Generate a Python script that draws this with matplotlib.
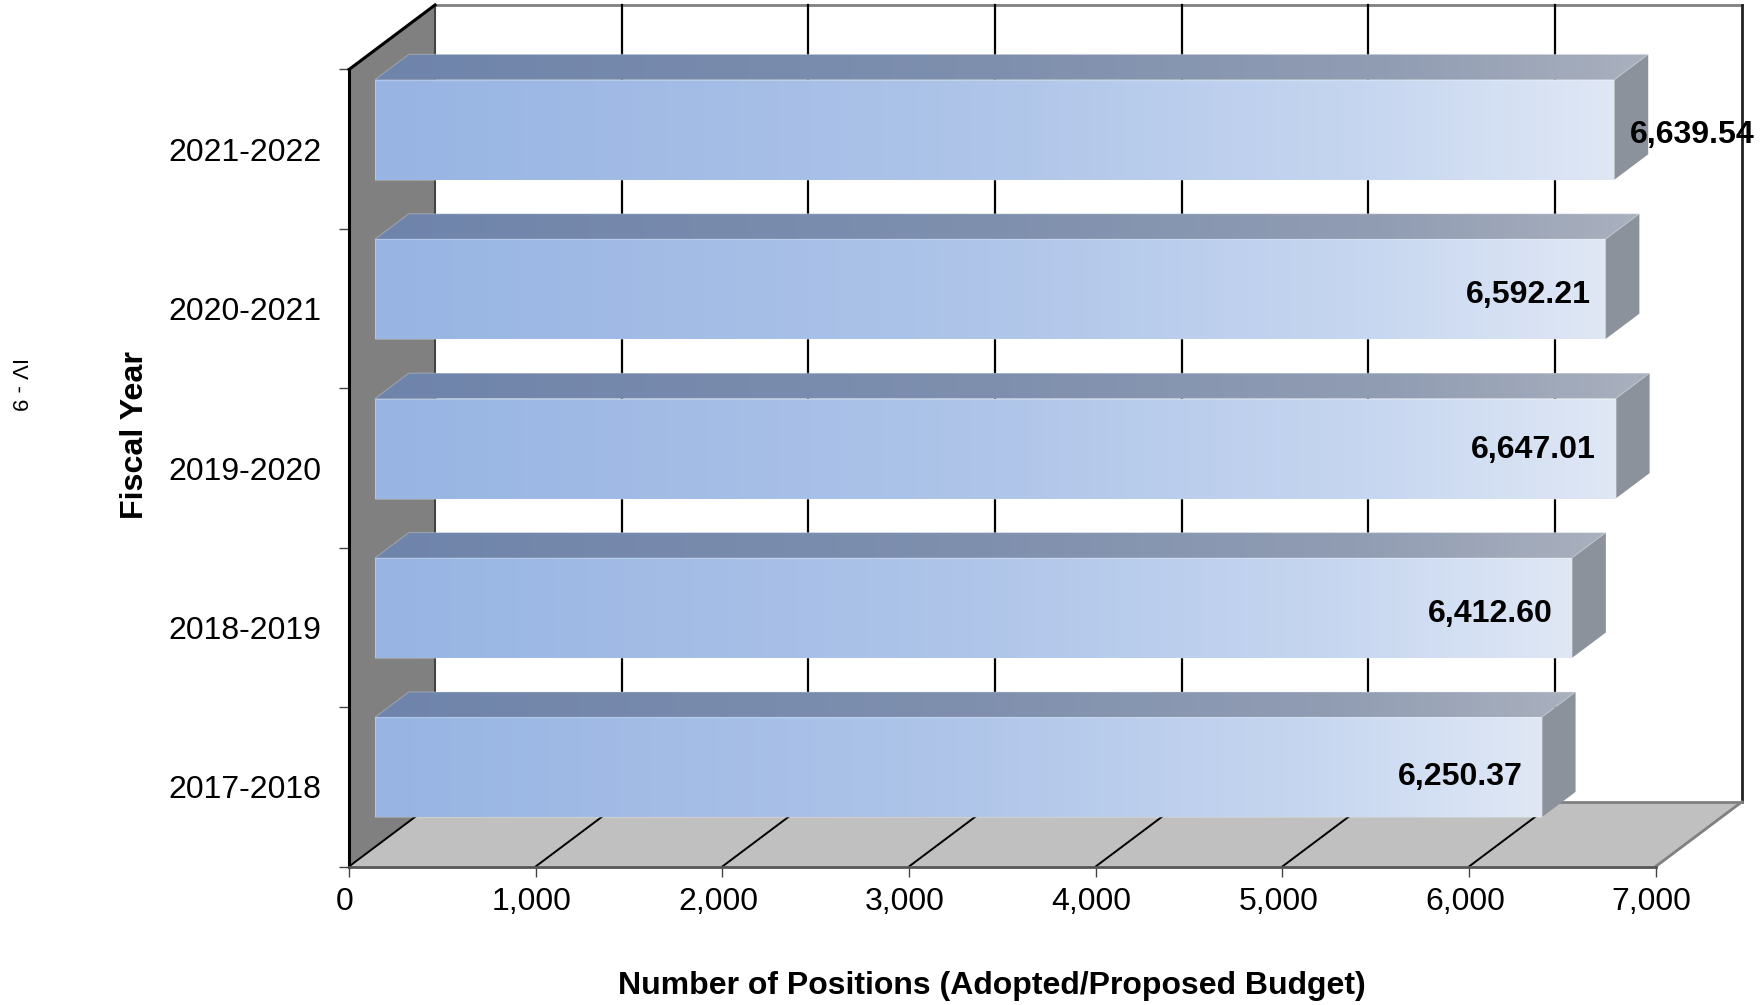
#!/usr/bin/env python3
# -*- coding: utf-8 -*-
"""Positions by fiscal year, drawn as a bar chart with a 3-D box look."""
import numpy as np
import matplotlib
matplotlib.use("Agg")
import matplotlib.pyplot as plt
from matplotlib.colors import LinearSegmentedColormap
from matplotlib.patches import Polygon
from matplotlib.transforms import ScaledTranslation

plt.rcParams["font.family"] = ["Liberation Sans", "DejaVu Sans"]

# bottom to top
YEARS = ["2017-2018", "2018-2019", "2019-2020", "2020-2021", "2021-2022"]
POSITIONS = [6250.37, 6412.60, 6647.01, 6592.21, 6639.54]
XTICKS = [0, 1000, 2000, 3000, 4000, 5000, 6000, 7000]

# depth of the box, in data units
DEPTH_X = 461
DEPTH_Y = 0.405
BAR_FRONT = 0.30
BAR_BACK = 0.695
BAR_H = 0.627

# nudges of the value labels from the bar end, in pixels
LABEL_NUDGE = [(-19, -9.5), (-19, -5.5), (-20, -1.5), (-15, -5.5), (140, -5.5)]

FRONT_CMAP = LinearSegmentedColormap.from_list(
    "front", [(0, "#97B4E3"), (0.5, "#AFC5E9"), (0.8, "#C6D6F0"), (1, "#DFE7F5")])
TOP_CMAP = LinearSegmentedColormap.from_list(
    "top", [(0, "#6F84AB"), (0.5, "#7F90AE"), (0.8, "#919DB3"), (1, "#A9B0BE")])
SIDE = "#8C929C"
WALL = "#808080"
FLOOR = "#C0C0C0"


def proj(x, y, d):
    """Push a point of the front plane back by depth d (0..1)."""
    return (x + d * DEPTH_X, y + d * DEPTH_Y)


def gradient(ax, fig, corners, cmap, zorder):
    pts = np.array(corners)
    im = ax.imshow(np.linspace(0, 1, 256).reshape(1, -1), cmap=cmap, aspect="auto",
                   extent=(pts[:, 0].min(), pts[:, 0].max(), pts[:, 1].min(), pts[:, 1].max()),
                   zorder=zorder, interpolation="bilinear")
    im.set_clip_box(fig.bbox)
    im.set_clip_path(Polygon(corners, transform=ax.transData))
    # thin light rim round the face
    ax.add_patch(Polygon(corners, fill=False, edgecolor=(1, 1, 1, 0.25), linewidth=0.8,
                         zorder=zorder + 0.1, clip_on=False))


fig = plt.figure(figsize=(17.64, 10.05), dpi=100)
ax = fig.add_axes([349 / 1764, (1005 - 866.5) / 1005, 1306.7 / 1764, 797 / 1005])
ax.patch.set_visible(False)

n = len(YEARS)
xmax = XTICKS[-1]

# back wall frame and gridlines
ax.plot(*zip(proj(0, n, 1), proj(xmax, n, 1)), color="#808080", lw=2, clip_on=False, zorder=1)
for x in XTICKS[1:-1]:
    ax.plot(*zip(proj(x, 0, 1), proj(x, n, 1)), color="black", lw=1.6, clip_on=False, zorder=1)
ax.plot(*zip(proj(xmax, 0, 1), proj(xmax, n, 1)), color="#222222", lw=2, clip_on=False, zorder=1)

# side wall
ax.add_patch(Polygon([proj(0, 0, 0), proj(0, n, 0), proj(0, n, 1), proj(0, 0, 1)],
                     facecolor=WALL, edgecolor="none", clip_on=False, zorder=2))
ax.plot(*zip(proj(0, 0, 1), proj(0, n, 1)), color="#444444", lw=1.5, clip_on=False, zorder=2.1)
ax.plot(*zip(proj(0, n, 0), proj(0, n, 1)), color="black", lw=2.2, clip_on=False, zorder=2.1)

# floor and its gridlines
ax.add_patch(Polygon([proj(0, 0, 0), proj(xmax, 0, 0), proj(xmax, 0, 1), proj(0, 0, 1)],
                     facecolor=FLOOR, edgecolor="none", clip_on=False, zorder=2))
ax.plot(*zip(proj(0, 0, 1), proj(xmax, 0, 1)), color="#808080", lw=2, clip_on=False, zorder=2.1)
ax.plot(*zip(proj(xmax, 0, 0), proj(xmax, 0, 1)), color="#808080", lw=2, clip_on=False, zorder=2.1)
for x in XTICKS[:-1]:
    ax.plot(*zip(proj(x, 0, 0), proj(x, 0, 1)), color="black", lw=1.4, clip_on=False, zorder=2.1)

# bars: top face, end face, front face
for i, v in enumerate(POSITIONS):
    lo = i + 0.5 - BAR_H / 2
    hi = i + 0.5 + BAR_H / 2
    top = [proj(0, hi, BAR_FRONT), proj(v, hi, BAR_FRONT), proj(v, hi, BAR_BACK), proj(0, hi, BAR_BACK)]
    gradient(ax, fig, top, TOP_CMAP, 3)
    ax.add_patch(Polygon([proj(v, lo, BAR_FRONT), proj(v, lo, BAR_BACK), proj(v, hi, BAR_BACK), proj(v, hi, BAR_FRONT)],
                         facecolor=SIDE, edgecolor="none", clip_on=False, zorder=3))
    front = [proj(0, lo, BAR_FRONT), proj(v, lo, BAR_FRONT), proj(v, hi, BAR_FRONT), proj(0, hi, BAR_FRONT)]
    gradient(ax, fig, front, FRONT_CMAP, 4)

    nudge = LABEL_NUDGE[i]
    ax.annotate(f"{v:,.2f}", xy=proj(v, i + 0.5, BAR_FRONT),
                xytext=(nudge[0] * 0.72, nudge[1] * 0.72), textcoords="offset points",
                ha="right", va="center", fontsize=23.1, fontweight="bold", color="black",
                annotation_clip=False, zorder=6)

ax.set_xlim(0, xmax)
ax.set_ylim(0, n)

for name in ("top", "right"):
    ax.spines[name].set_visible(False)
ax.spines["left"].set_color("black")
ax.spines["left"].set_linewidth(2.2)
ax.spines["bottom"].set_color("#555555")
ax.spines["bottom"].set_linewidth(2)

ax.set_xticks(XTICKS)
ax.set_xticklabels([f"{t:,}" for t in XTICKS], fontsize=23)
ax.tick_params(axis="x", length=7, width=1, color="#444444", pad=8)
for lab in ax.get_xticklabels():
    lab.set_transform(lab.get_transform() + ScaledTranslation(-4 / 100, 0, fig.dpi_scale_trans))

# ticks on band edges, year labels on band centres
ax.set_yticks(range(n + 1))
ax.set_yticklabels([])
ax.set_yticks(np.arange(n) + 0.5, minor=True)
ax.set_yticklabels(YEARS, minor=True, fontsize=23)
ax.tick_params(axis="y", which="major", length=7, width=1, color="#444444")
ax.tick_params(axis="y", which="minor", length=0, pad=20)

ax.set_xlabel("Number of Positions (Adopted/Proposed Budget)", fontsize=23, fontweight="bold", va="center")
ax.xaxis.set_label_coords((992 - 349) / 1306.7, -(986 - 866.5) / 797)
ax.set_ylabel("Fiscal Year", fontsize=23.2, fontweight="bold", va="center", ha="center")
ax.yaxis.set_label_coords((135 - 349) / 1306.7, (866.5 - 435) / 797)

fig.text(17 / 1764, 1 - 384 / 1005, "IV - 9", rotation=-90, ha="center", va="center", fontsize=16)

fig.savefig("out.png", dpi=100)
plt.close(fig)
